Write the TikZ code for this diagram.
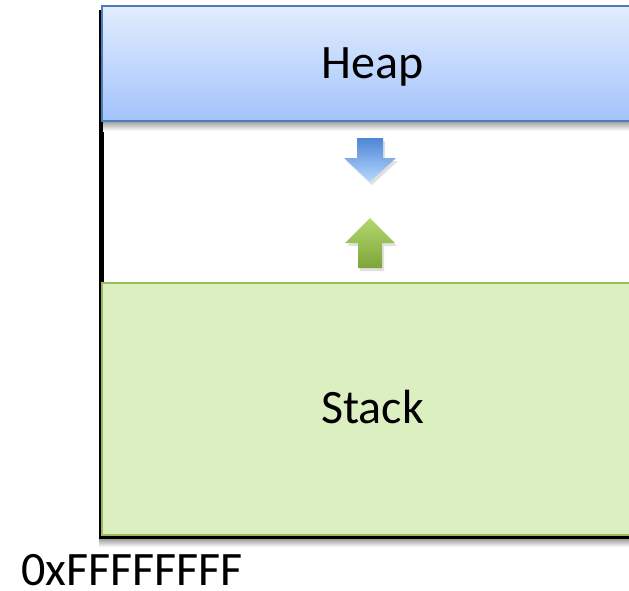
\documentclass[tikz,border=0pt]{standalone}
\usepackage{fontspec}
\setmainfont{Carlito}
\definecolor{heapedge}{HTML}{4A7EBB}
\definecolor{heaptop}{HTML}{E2EDFE}
\definecolor{heapbot}{HTML}{A3C3FC}
\definecolor{stackfill}{HTML}{DCEFC0}
\definecolor{stackedge}{HTML}{9BBB59}
\definecolor{downtop}{HTML}{4F86D6}
\definecolor{downbot}{HTML}{B8D8FF}
\definecolor{uptop}{HTML}{B4D76C}
\definecolor{upbot}{HTML}{7DA53C}
\begin{document}
\begin{tikzpicture}[x=1pt,y=-1pt,
  lbl/.style={font=\fontsize{48}{52}\selectfont, inner sep=0pt, anchor=base},
  region/.style={line width=2pt}]
\useasboundingbox (0,0) rectangle (629,590);
% memory outline (right side runs off the page)
\draw[line width=4.5pt] (101.5,12) rectangle (720,537.5);
% soft shadows under the two regions
\shade[top color=black!35, bottom color=white] (103,122) rectangle (720,131);
\shade[top color=black!35, bottom color=white] (99,539.5) rectangle (720,547);
% heap region
\shade[top color=heaptop, bottom color=heapbot] (102,6) rectangle (720,121);
\draw[region, draw=heapedge] (102,6) rectangle (720,121);
% stack region
\fill[stackfill] (102,283) rectangle (720,535);
\draw[region, draw=stackedge] (102,283) rectangle (720,535);
% growth arrows: heap grows down, stack grows up
\fill[black, opacity=0.12] (359,141) -- (385,141) -- (385,161) -- (398,161) -- (372,185) -- (346,161) -- (359,161) -- cycle;
\shade[top color=downtop, bottom color=downbot]
  (357,138) -- (383,138) -- (383,158) -- (396,158) -- (370,182) -- (344,158) -- (357,158) -- cycle;
\fill[black, opacity=0.12] (372,221) -- (397,246) -- (384,246) -- (384,271) -- (360,271) -- (360,246) -- (347,246) -- cycle;
\shade[top color=uptop, bottom color=upbot]
  (370,218) -- (395,243) -- (382,243) -- (382,268) -- (358,268) -- (358,243) -- (345,243) -- cycle;
% labels
\node[lbl] (heaplabel) at (372.5,78) {Heap};
\node[lbl] (stacklabel) at (372.5,423) {Stack};
\node[lbl, anchor=base west, text depth=0pt] (addr) at (21,585) {0xFFFFFFFF};
\end{tikzpicture}
\end{document}
